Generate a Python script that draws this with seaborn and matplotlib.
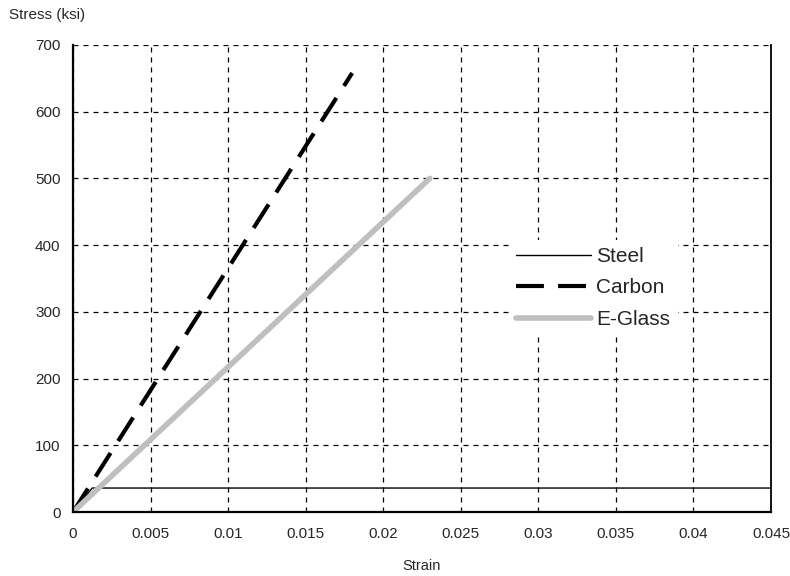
import numpy as np
import pandas as pd
import matplotlib
matplotlib.use("Agg")
from matplotlib import pyplot as plt
import seaborn as sns

# stress-strain data (strain, ksi)
steel_strain = [0.0, 0.00124, 0.045]
steel_stress = [0.0, 36.0, 36.0]
carbon_strain = [0.0, 0.018]
carbon_stress = [0.0, 658.0]
glass_strain = [0.0, 0.023]
glass_stress = [0.0, 500.0]

x_ticks = [0, 0.005, 0.01, 0.015, 0.02, 0.025, 0.03, 0.035, 0.04, 0.045]
x_labels = ["0", "0.005", "0.01", "0.015", "0.02", "0.025", "0.03", "0.035", "0.04", "0.045"]
y_ticks = [0, 100, 200, 300, 400, 500, 600, 700]

sns.set_theme(style="white")
plt.rcParams['font.family'] = ['Liberation Sans', 'DejaVu Sans']

fig = plt.figure(figsize=(7.9, 5.76), dpi=100)
ax = fig.add_axes([0.0924, 0.111, 0.8836, 0.811])

sns.lineplot(x=steel_strain, y=steel_stress, ax=ax, color="black", lw=1.0, label="Steel")
sns.lineplot(x=carbon_strain, y=carbon_stress, ax=ax, color="black", lw=3.0, label="Carbon")
ax.lines[-1].set_dashes([6.7, 3.4])
sns.lineplot(x=glass_strain, y=glass_stress, ax=ax, color="#bfbfbf", lw=4.0, label="E-Glass")

ax.set_xlim(0, 0.045)
ax.set_ylim(0, 700)
ax.set_xticks(x_ticks)
ax.set_xticklabels(x_labels)
ax.set_yticks(y_ticks)
ax.tick_params(axis="y", labelsize=11, length=0, pad=9)
ax.tick_params(axis="x", labelsize=11, length=0, pad=11)

ax.grid(True, color="black", linestyle=(0, (4, 4)), linewidth=0.9)
ax.set_axisbelow(True)
for side in ["left", "bottom", "right"]:
    ax.spines[side].set_color("black")
    ax.spines[side].set_linewidth(1.6)
ax.spines["right"].set_linewidth(1.3)
ax.spines["top"].set_visible(False)

ax.set_xlabel("Strain", fontsize=10.5, labelpad=13)
ax.set_ylabel("")
fig.text(0.012, 0.974, "Stress (ksi)", fontsize=11, ha="left", va="center")

leg = ax.legend(loc="center left", bbox_to_anchor=(0.6246, 0.48), frameon=True, fontsize=15,
                handlelength=3.6, handletextpad=0.25, labelspacing=0.6, borderaxespad=0,
                borderpad=0.35, fancybox=False, framealpha=1)
leg.get_frame().set_facecolor("white")
leg.get_frame().set_edgecolor("none")

plt.savefig("out.png", dpi=100)
